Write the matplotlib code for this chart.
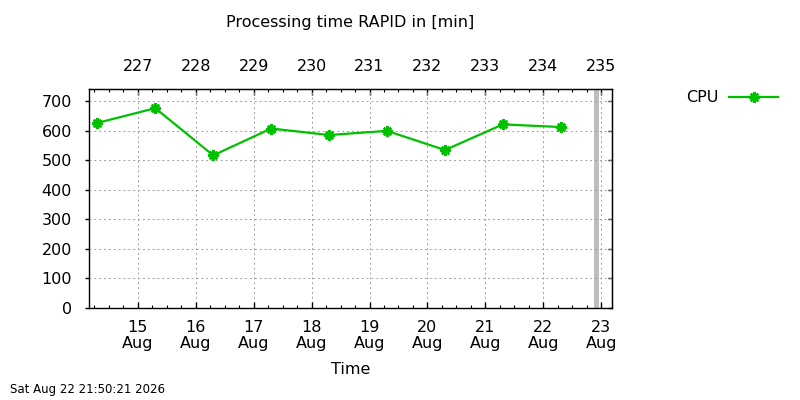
import numpy as np
import pandas as pd
import matplotlib
matplotlib.use('Agg')
import matplotlib.pyplot as plt
import matplotlib.dates as mdates

# data
times = pd.to_datetime(['2026-08-14 07:15', '2026-08-15 07:15', '2026-08-16 07:15',
                        '2026-08-17 07:15', '2026-08-18 07:15', '2026-08-19 07:15',
                        '2026-08-20 07:15', '2026-08-21 07:15', '2026-08-22 07:15'])
cpu_min = [626, 676, 516, 607, 585, 599, 534, 621, 612]

tick_days = pd.date_range('2026-08-15', '2026-08-23', freq='D')
now = pd.Timestamp('2026-08-22 21:50:21')
x_start = pd.Timestamp('2026-08-14 03:40')
x_end = pd.Timestamp('2026-08-23 04:35')

green = '#00c000'
plt.rcParams['font.family'] = 'DejaVu Sans'
plt.rcParams['font.size'] = 11.5

fig = plt.figure(figsize=(8, 4), dpi=100)
ax = fig.add_axes([88.7/800, 1 - 307.5/400, (612.3 - 88.7)/800, (307.5 - 89.3)/400])

ax.plot(times, cpu_min, color=green, lw=1.6, marker=(8, 2, 0), ms=7.5, mew=1.8,
        label='CPU')
ax.axvline(now, color='#bebebe', lw=3.6, zorder=1)

ax.set_xlim(x_start, x_end)
ax.set_ylim(0, 740)
ax.set_yticks(np.arange(0, 701, 100))
ax.set_xticks(tick_days)
ax.set_xticklabels([f'{d.day}\nAug' for d in tick_days], linespacing=1.1)
ax.xaxis.set_minor_locator(mdates.HourLocator(byhour=[0, 6, 12, 18]))

ax.grid(True, color='#a0a0a0', lw=0.7, linestyle=(0, (2, 3)))
for s in ax.spines.values():
    s.set_linewidth(1.0)

ax.tick_params(axis='x', which='major', direction='in', length=4, width=1, pad=9, colors='black')
ax.tick_params(axis='x', which='minor', direction='in', length=2.2, width=0.8)
ax.tick_params(axis='y', which='major', direction='out', length=3, width=1, pad=9)

top = ax.secondary_xaxis('top')
top.set_xticks(tick_days)
top.set_xticklabels([str(d.dayofyear) for d in tick_days])
top.xaxis.set_minor_locator(mdates.HourLocator(byhour=[0, 6, 12, 18]))
top.tick_params(which='major', direction='in', length=4, width=1, pad=11)
top.tick_params(which='minor', direction='in', length=2.2, width=0.8)

right = ax.secondary_yaxis('right')
right.set_yticks(np.arange(0, 701, 100))
right.set_yticklabels([])
right.tick_params(direction='in', length=3, width=1)

ax.set_xlabel('Time', labelpad=8)
fig.text(350/800, 1 - 23/400, 'Processing time RAPID in [min]', ha='center', va='center')
fig.text(10/800, 1 - 390/400, now.strftime('%a %b %d %H:%M:%S %Y'), fontsize=8.5,
         ha='left', va='center')

fig.legend(loc='center left', bbox_to_anchor=(686/800, 1 - 97.7/400), frameon=False,
           markerfirst=False, borderpad=0, borderaxespad=0, handlelength=3.1,
           handletextpad=0.65)

fig.savefig('out.png', dpi=100)
